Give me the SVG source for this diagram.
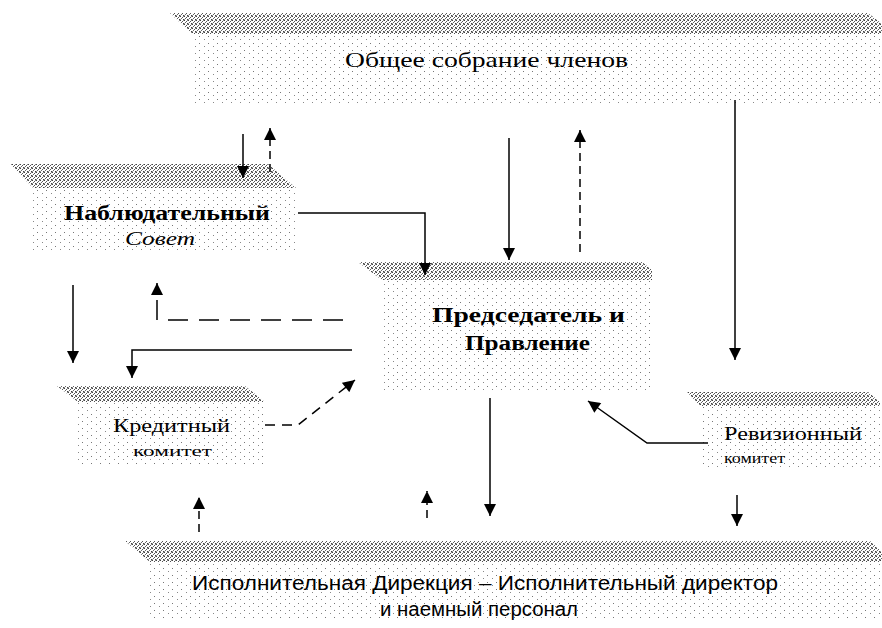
<svg xmlns="http://www.w3.org/2000/svg" width="882" height="628" viewBox="0 0 882 628">
<style>
.band{fill:url(#dense);}
.body{fill:url(#sparse);}
.t{font-family:"Liberation Serif","Times New Roman",serif;fill:#000;}
.s{font-family:"Liberation Sans",Arial,sans-serif;fill:#000;}
.c{fill:none;stroke:#000;stroke-width:1.5;}
.d{stroke-dasharray:8,5;}
.dl{stroke-dasharray:20,11;}
</style>
<defs>
<pattern id="dense" width="4" height="4" patternUnits="userSpaceOnUse">
<rect width="4" height="4" fill="#fff"/>
<rect x="0" y="0" width="1" height="1" fill="#444"/>
<rect x="2" y="1" width="1" height="1" fill="#555"/>
<rect x="1" y="2" width="1" height="1" fill="#666"/>
<rect x="3" y="3" width="1" height="1" fill="#444"/>
<rect x="3" y="0" width="1" height="1" fill="#888"/>
<rect x="0" y="3" width="1" height="1" fill="#999"/>
</pattern>
<pattern id="sparse" width="9" height="7" patternUnits="userSpaceOnUse">
<rect width="9" height="7" fill="#fff"/>
<rect x="1" y="1" width="1" height="1" fill="#777"/>
<rect x="6" y="4" width="1" height="1" fill="#888"/>
</pattern>
<marker id="ah" viewBox="0 0 10 10" refX="10" refY="5" markerWidth="13" markerHeight="12" markerUnits="userSpaceOnUse" orient="auto">
<path d="M0,0 L10,5 L0,10 z" fill="#000"/>
</marker>
</defs>

<g id="n-general">
<path class="band" d="M170,13 L868,13 L882,24 L882,34 L192,34 z"/>
<rect class="body" x="192" y="34" width="690" height="72"/>
<text class="t" x="345" y="67" font-size="21" textLength="283" lengthAdjust="spacingAndGlyphs">Общее собрание членов</text>
</g>

<g id="n-supervisory">
<path class="band" d="M10,164 L268,164 L296,188 L33,188 z"/>
<rect class="body" x="33" y="188" width="263" height="62"/>
<text class="t" x="64" y="220" font-size="20" font-weight="bold" textLength="206" lengthAdjust="spacingAndGlyphs">Наблюдательный</text>
<text class="t" x="125" y="245" font-size="19" font-style="italic" textLength="70" lengthAdjust="spacingAndGlyphs">Совет</text>
</g>

<g id="n-board">
<path class="band" d="M358,262 L642,262 L652,270 L652,280 L382,280 z"/>
<rect class="body" x="382" y="280" width="270" height="110"/>
<text class="t" x="432" y="322" font-size="20" font-weight="bold" textLength="193" lengthAdjust="spacingAndGlyphs">Председатель и</text>
<text class="t" x="465" y="350" font-size="20" font-weight="bold" textLength="125" lengthAdjust="spacingAndGlyphs">Правление</text>
</g>

<g id="n-credit">
<path class="band" d="M57,386 L245,386 L265,402 L78,402 z"/>
<rect class="body" x="78" y="402" width="187" height="63"/>
<text class="t" x="113" y="432" font-size="18" textLength="117" lengthAdjust="spacingAndGlyphs">Кредитный</text>
<text class="t" x="133" y="456" font-size="15" textLength="79" lengthAdjust="spacingAndGlyphs">комитет</text>
</g>

<g id="n-audit">
<path class="band" d="M687,392 L868,392 L880,402 L880,406 L700,406 z"/>
<rect class="body" x="700" y="406" width="180" height="64"/>
<text class="t" x="724" y="440" font-size="18" textLength="138" lengthAdjust="spacingAndGlyphs">Ревизионный</text>
<text class="t" x="724" y="463" font-size="15" textLength="61" lengthAdjust="spacingAndGlyphs">комитет</text>
</g>

<g id="n-exec">
<path class="band" d="M125,541 L870,541 L882,552 L882,562 L150,562 z"/>
<rect class="body" x="150" y="562" width="732" height="58"/>
<text class="s" x="192" y="590" font-size="20" textLength="586" lengthAdjust="spacingAndGlyphs">Исполнительная Дирекция – Исполнительный директор</text>
<text class="s" x="380" y="616" font-size="20" textLength="198" lengthAdjust="spacingAndGlyphs">и наемный персонал</text>
</g>

<g id="connectors">
<path class="c" d="M243,134 V178" marker-end="url(#ah)"/>
<path class="c d" d="M270,172 V128" marker-end="url(#ah)"/>
<path class="c" d="M298,213 H425 V275" marker-end="url(#ah)"/>
<path class="c" d="M509,138 V260" marker-end="url(#ah)"/>
<path class="c d" d="M580,252 V130" marker-end="url(#ah)"/>
<path class="c" d="M735,100 V360" marker-end="url(#ah)"/>
<path class="c" d="M73,285 V363" marker-end="url(#ah)"/>
<path class="c dl" d="M343,320 H157 V283" marker-end="url(#ah)"/>
<path class="c" d="M352,350 H132 V378" marker-end="url(#ah)"/>
<path class="c" style="stroke-dasharray:10,7" d="M265,425 H298 L355,380" marker-end="url(#ah)"/>
<path class="c" d="M708,443 H647 L588,401" marker-end="url(#ah)"/>
<path class="c d" d="M199,532 V497" marker-end="url(#ah)"/>
<path class="c d" d="M427,518 V491" marker-end="url(#ah)"/>
<path class="c" d="M490,398 V516" marker-end="url(#ah)"/>
<path class="c" d="M737,495 V526" marker-end="url(#ah)"/>
</g>
</svg>
